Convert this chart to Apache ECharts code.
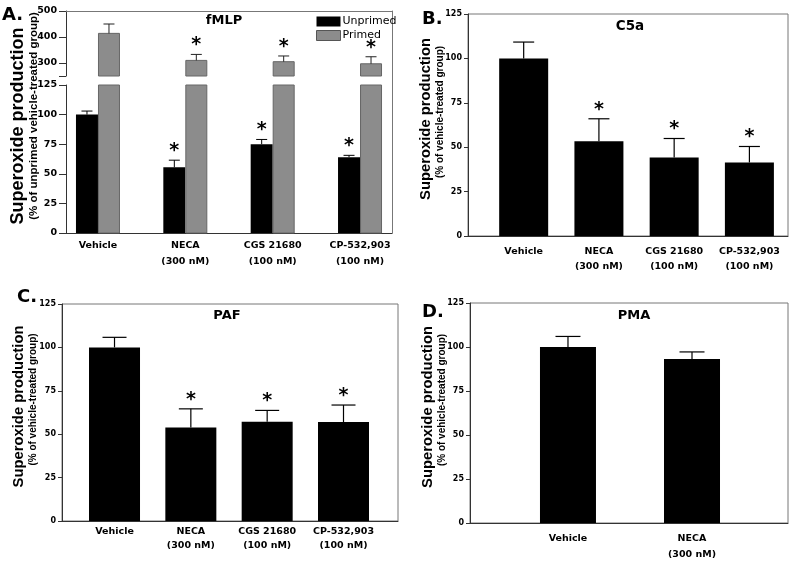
<!DOCTYPE html>
<html>
<head>
<meta charset="utf-8">
<script src="https://cdn.jsdelivr.net/npm/echarts@6/dist/echarts.min.js"></script>
<style>html,body{margin:0;padding:0;background:#fff;}#c{width:800px;height:564px;}</style>
</head>
<body>
<div id="c"></div>
<script>
// ---------- data ----------
const categoriesABC = ['Vehicle', 'NECA\n(300 nM)', 'CGS 21680\n(100 nM)', 'CP-532,903\n(100 nM)'];
const categoriesD = ['Vehicle', 'NECA\n(300 nM)'];

// Panel A (fMLP)
const unprimedA = [100, 55.5, 75, 64];
const unprimedErrA = [3, 6, 4, 1.6];
const unprimedSigA = [0, 1, 1, 1];
const primedA = [414, 310, 305, 297];
const primedErrA = [36, 23, 22, 27];
const primedSigA = [0, 1, 1, 1];

// Panel B (C5a)
const c5a = [100, 53.4, 44.2, 41.4];
const c5aErr = [9.2, 12.6, 10.7, 9.0];
const c5aSig = [0, 1, 1, 1];

// Panel C (PAF)
const paf = [100, 53.8, 57.1, 57.0];
const pafErr = [5.8, 10.8, 6.6, 9.8];
const pafSig = [0, 1, 1, 1];

// Panel D (PMA)
const pma = [100, 93.2];
const pmaErr = [6, 4];
const pmaSig = [0, 0];

// tick labels
const ticksLower = [0, 25, 50, 75, 100, 125];
const ticksUpper = [300, 400, 500];

// ---------- helpers ----------
const HF = 'DejaVu Sans';
const RF = 'Liberation Sans';

function rows(vals, errs, sigs) {
  return vals.map((v, i) => [i, v, errs ? errs[i] : 0, sigs ? sigs[i] : 0]);
}

function makeRender(cfg) {
  return function (params, api) {
    const x = api.value(0), v = api.value(1), e = api.value(2), s = api.value(3);
    const base = cfg.base || 0;
    const top = cfg.clip != null ? Math.min(v, cfg.clip) : v;
    const pb = api.coord([x, base]);
    const pt = api.coord([x, top]);
    const cx = pb[0] + (cfg.off || 0);
    const w = cfg.w;
    const children = [{
      type: 'rect',
      shape: { x: cx - w / 2, y: pt[1], width: w, height: pb[1] - pt[1] },
      style: { fill: cfg.color, stroke: cfg.stroke || null, lineWidth: cfg.stroke ? 1 : 0 }
    }];
    if (cfg.err) {
      const pe = api.coord([x, v + e]);
      const ls = { stroke: cfg.errColor || '#000', lineWidth: cfg.errW || 1.2 };
      children.push({ type: 'line', shape: { x1: cx, y1: pt[1], x2: cx, y2: pe[1] }, style: ls });
      children.push({ type: 'line', shape: { x1: cx - cfg.capW / 2, y1: pe[1], x2: cx + cfg.capW / 2, y2: pe[1] }, style: ls });
      if (s) {
        children.push({
          type: 'text', x: cx, y: pe[1] - 9,
          style: { text: '*', fill: '#000', font: 'bold 19px "' + HF + '"', align: 'center', verticalAlign: 'middle' }
        });
      }
    }
    return { type: 'group', children: children };
  };
}

function yName(big) {
  const main = 'Superoxide production';
  const sub = big ? '(% of unprimed vehicle-treated group)' : '(% of vehicle-treated group)';
  return '{a|' + main + '}\n{b|' + sub + '}';
}
function yNameRich(big) {
  return {
    a: { fontFamily: RF, fontWeight: 'bold', fontSize: big ? 18 : 14.8, lineHeight: big ? 18 : 17, color: '#000',
         padding: big ? [0, 8, 0, 0] : [0, 0, 0, 12] },
    b: { fontFamily: RF, fontWeight: 'bold', fontSize: big ? 11.5 : 10, lineHeight: big ? 14 : 13, color: '#000',
         padding: big ? [0, 0, 0, 12] : [0, 0, 0, 26] }
  };
}

function valueYAxis(grid, opts) {
  return Object.assign({
    type: 'value', gridIndex: grid, min: 0, max: 125, interval: 25,
    nameMoveOverlap: false,
    axisLine: { show: true, onZero: false, lineStyle: { color: '#333', width: 1 } },
    axisTick: { show: true, length: 4, lineStyle: { color: '#333' } },
    axisLabel: { fontFamily: HF, fontWeight: 'bold', fontSize: 8, color: '#000', margin: 6 },
    splitLine: { show: false }
  }, opts);
}

function catXAxis(grid, min, max, cats, margin, lh) {
  return {
    type: 'value', gridIndex: grid, min: min, max: max,
    axisLine: { show: true, onZero: false, lineStyle: { color: '#333' } },
    axisTick: { show: false },
    splitLine: { show: false },
    axisLabel: {
      customValues: cats.map((c, i) => i),
      formatter: function (v) { return cats[Math.round(v)] || ''; },
      fontFamily: HF, fontWeight: 'bold', fontSize: 9.5, color: '#000', margin: margin, lineHeight: lh
    }
  };
}

const chart = echarts.init(document.getElementById('c'), null, { renderer: 'canvas' });

const option = {
  animation: false,
  backgroundColor: '#fff',
  title: [
    { text: 'A.', left: 2, top: 6, padding: 0, textStyle: { fontFamily: HF, fontWeight: 'bold', fontSize: 18, color: '#000' } },
    { text: 'B.', left: 422, top: 10, padding: 0, textStyle: { fontFamily: HF, fontWeight: 'bold', fontSize: 18, color: '#000' } },
    { text: 'C.', left: 17, top: 288, padding: 0, textStyle: { fontFamily: HF, fontWeight: 'bold', fontSize: 18, color: '#000' } },
    { text: 'D.', left: 422, top: 303, padding: 0, textStyle: { fontFamily: HF, fontWeight: 'bold', fontSize: 18, color: '#000' } },
    { text: 'fMLP', left: 224, top: 14, padding: 0, textAlign: 'center', textStyle: { fontFamily: HF, fontWeight: 'bold', fontSize: 13, color: '#000' } },
    { text: 'C5a', left: 630, top: 19, padding: 0, textAlign: 'center', textStyle: { fontFamily: HF, fontWeight: 'bold', fontSize: 13.5, color: '#000' } },
    { text: 'PAF', left: 227, top: 309, padding: 0, textAlign: 'center', textStyle: { fontFamily: HF, fontWeight: 'bold', fontSize: 13, color: '#000' } },
    { text: 'PMA', left: 634, top: 309, padding: 0, textAlign: 'center', textStyle: { fontFamily: HF, fontWeight: 'bold', fontSize: 13, color: '#000' } }
  ],
  legend: {
    data: [
      { name: 'Unprimed', itemStyle: { color: '#000' } },
      { name: 'Primed', itemStyle: { color: '#8c8c8c', borderColor: '#555', borderWidth: 1 } }
    ],
    orient: 'vertical', left: 316, top: 16, padding: 0,
    icon: 'rect', itemWidth: 24, itemHeight: 10, itemGap: 3,
    selectedMode: false,
    textStyle: { fontFamily: HF, fontSize: 11, color: '#000', padding: [0, 0, 0, -3] }
  },
  grid: [
    { left: 66, top: 11, width: 326, height: 222, show: false },            // 0 A outline
    { left: 66, top: 11, width: 326, height: 65, show: false },             // 1 A upper
    { left: 66, top: 85, width: 326, height: 148, show: false },            // 2 A lower
    { left: 468, top: 14, width: 320, height: 222, show: true, borderColor: '#777', borderWidth: 1, backgroundColor: 'transparent' }, // 3 B
    { left: 62, top: 304, width: 336, height: 217, show: true, borderColor: '#777', borderWidth: 1, backgroundColor: 'transparent' },  // 4 C
    { left: 470, top: 303, width: 318, height: 220, show: true, borderColor: '#777', borderWidth: 1, backgroundColor: 'transparent' }  // 5 D
  ],
  xAxis: [
    { type: 'value', gridIndex: 0, min: 0, max: 1, position: 'top',
      axisLine: { show: true, onZero: false, lineStyle: { color: '#777' } }, axisTick: { show: false }, axisLabel: { show: false }, splitLine: { show: false } },
    { type: 'value', gridIndex: 1, min: -0.366, max: 3.366, show: false, axisLine: { onZero: false } },
    catXAxis(2, -0.366, 3.366, categoriesABC, 5, 16),
    catXAxis(3, -0.74, 3.513, categoriesABC, 8, 15),
    catXAxis(4, -0.688, 3.714, categoriesABC, 4, 14),
    catXAxis(5, -0.79, 1.774, categoriesD, 8, 16)
  ],
  yAxis: [
    { type: 'value', gridIndex: 0, min: 0, max: 1, position: 'left', nameMoveOverlap: false,
      axisLine: { show: false, onZero: false }, axisTick: { show: false }, axisLabel: { show: false }, splitLine: { show: false },
      name: yName(true), nameLocation: 'middle', nameGap: 25, nameTextStyle: { rich: yNameRich(true) } },
    { type: 'value', gridIndex: 0, min: 0, max: 1, position: 'right',
      axisLine: { show: true, onZero: false, lineStyle: { color: '#777' } }, axisTick: { show: false }, axisLabel: { show: false }, splitLine: { show: false } },
    valueYAxis(1, {
      min: 250, max: 500, interval: 50,
      axisTick: { show: true, length: 7, customValues: [250].concat(ticksUpper), lineStyle: { color: '#333' } },
      axisLabel: { customValues: ticksUpper, fontFamily: HF, fontWeight: 'bold', fontSize: 9.5, color: '#000', margin: 9 }
    }),
    valueYAxis(2, {
      axisTick: { show: true, length: 7, customValues: ticksLower, lineStyle: { color: '#333' } },
      axisLabel: { customValues: ticksLower, fontFamily: HF, fontWeight: 'bold', fontSize: 9.5, color: '#000', margin: 9 }
    }),
    valueYAxis(3, { name: yName(false), nameLocation: 'middle', nameGap: 21, nameTextStyle: { rich: yNameRich(false) } }),
    valueYAxis(4, { name: yName(false), nameLocation: 'middle', nameGap: 22, nameTextStyle: { rich: yNameRich(false) } }),
    valueYAxis(5, { name: yName(false), nameLocation: 'middle', nameGap: 21, nameTextStyle: { rich: yNameRich(false) } })
  ],
  series: [
    // Panel A lower: unprimed
    { type: 'custom', name: 'Unprimed', xAxisIndex: 2, yAxisIndex: 3, clip: false,
      itemStyle: { color: '#000' },
      encode: { x: 0, y: 1 },
      data: rows(unprimedA, unprimedErrA, unprimedSigA),
      renderItem: makeRender({ w: 22, off: -11, color: '#000', err: true, capW: 11, errW: 1 }) },
    // Panel A lower: primed (clipped at 125)
    { type: 'custom', name: 'Primed', xAxisIndex: 2, yAxisIndex: 3, clip: false,
      itemStyle: { color: '#8c8c8c' },
      encode: { x: 0, y: 1 },
      data: rows(primedA, primedErrA, primedSigA),
      renderItem: makeRender({ w: 21, off: 11, color: '#8c8c8c', stroke: '#666', clip: 125 }) },
    // Panel A upper: primed
    { type: 'custom', name: 'Primed', xAxisIndex: 1, yAxisIndex: 2, clip: false,
      itemStyle: { color: '#8c8c8c' },
      encode: { x: 0, y: 1 },
      data: rows(primedA, primedErrA, primedSigA),
      renderItem: makeRender({ w: 21, off: 11, base: 250, color: '#8c8c8c', stroke: '#666', err: true, capW: 11, errW: 1, errColor: '#222' }) },
    // Panel B
    { type: 'custom', name: 'C5a', xAxisIndex: 3, yAxisIndex: 4, clip: false,
      encode: { x: 0, y: 1 },
      data: rows(c5a, c5aErr, c5aSig),
      renderItem: makeRender({ w: 49, color: '#000', err: true, capW: 21, errW: 1.2 }) },
    // Panel C
    { type: 'custom', name: 'PAF', xAxisIndex: 4, yAxisIndex: 5, clip: false,
      encode: { x: 0, y: 1 },
      data: rows(paf, pafErr, pafSig),
      renderItem: makeRender({ w: 51, color: '#000', err: true, capW: 24, errW: 1.2 }) },
    // Panel D
    { type: 'custom', name: 'PMA', xAxisIndex: 5, yAxisIndex: 6, clip: false,
      encode: { x: 0, y: 1 },
      data: rows(pma, pmaErr, pmaSig),
      renderItem: makeRender({ w: 56, color: '#000', err: true, capW: 25, errW: 1.2 }) }
  ]
};

chart.setOption(option);
</script>
</body>
</html>
